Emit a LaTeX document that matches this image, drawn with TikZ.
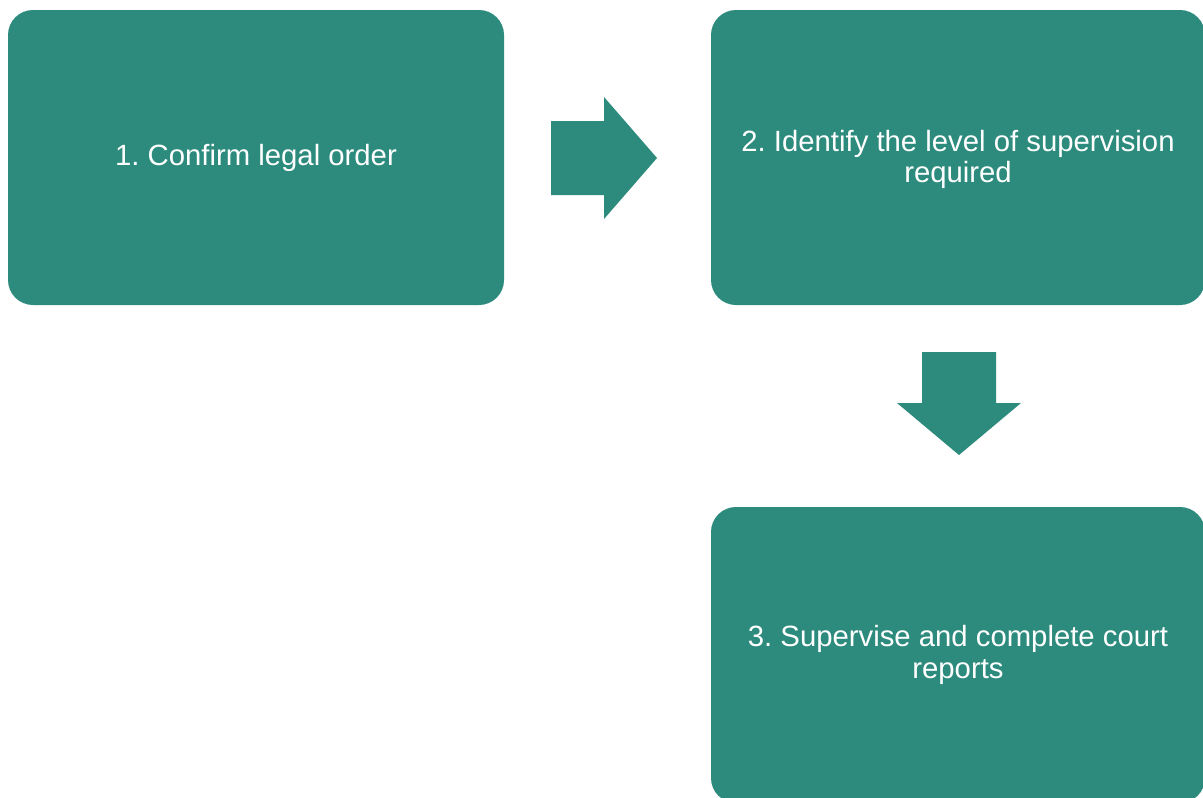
\documentclass[tikz,border=0pt]{standalone}
\usepackage{fontspec}
\setmainfont{Liberation Sans}
\definecolor{teal1}{RGB}{44,139,125}
\frenchspacing
\begin{document}
\begin{tikzpicture}[x=1pt,y=-1pt,
  stepbox/.style={fill=teal1, draw=none, rounded corners=25pt, text=white,
    font=\fontsize{29.3pt}{31.5pt}\selectfont\frenchspacing, align=center, inner sep=0pt},
  blockarrow/.style={fill=teal1, draw=none}]
\useasboundingbox (0,0) rectangle (1203,798);
\fill[white] (0,0) rectangle (1203,798);
\node[stepbox, minimum width=496pt, minimum height=295pt] (b1) at (256,157.5) {1. Confirm legal order};
\node[stepbox, minimum width=494pt, minimum height=295pt, text depth=2pt] (b2) at (958,157.5) {2. Identify the level of supervision\\required};
\node[stepbox, minimum width=494pt, minimum height=296pt] (b3) at (958,655) {3. Supervise and complete court\\reports};
% right arrow between b1 and b2
\fill[blockarrow] (551,121) -- (604,121) -- (604,97) -- (657,158) -- (604,219) -- (604,195) -- (551,195) -- cycle;
% down arrow between b2 and b3
\fill[blockarrow] (922,352) -- (996,352) -- (996,403) -- (1021,403) -- (959,455) -- (897,403) -- (922,403) -- cycle;
\end{tikzpicture}
\end{document}
